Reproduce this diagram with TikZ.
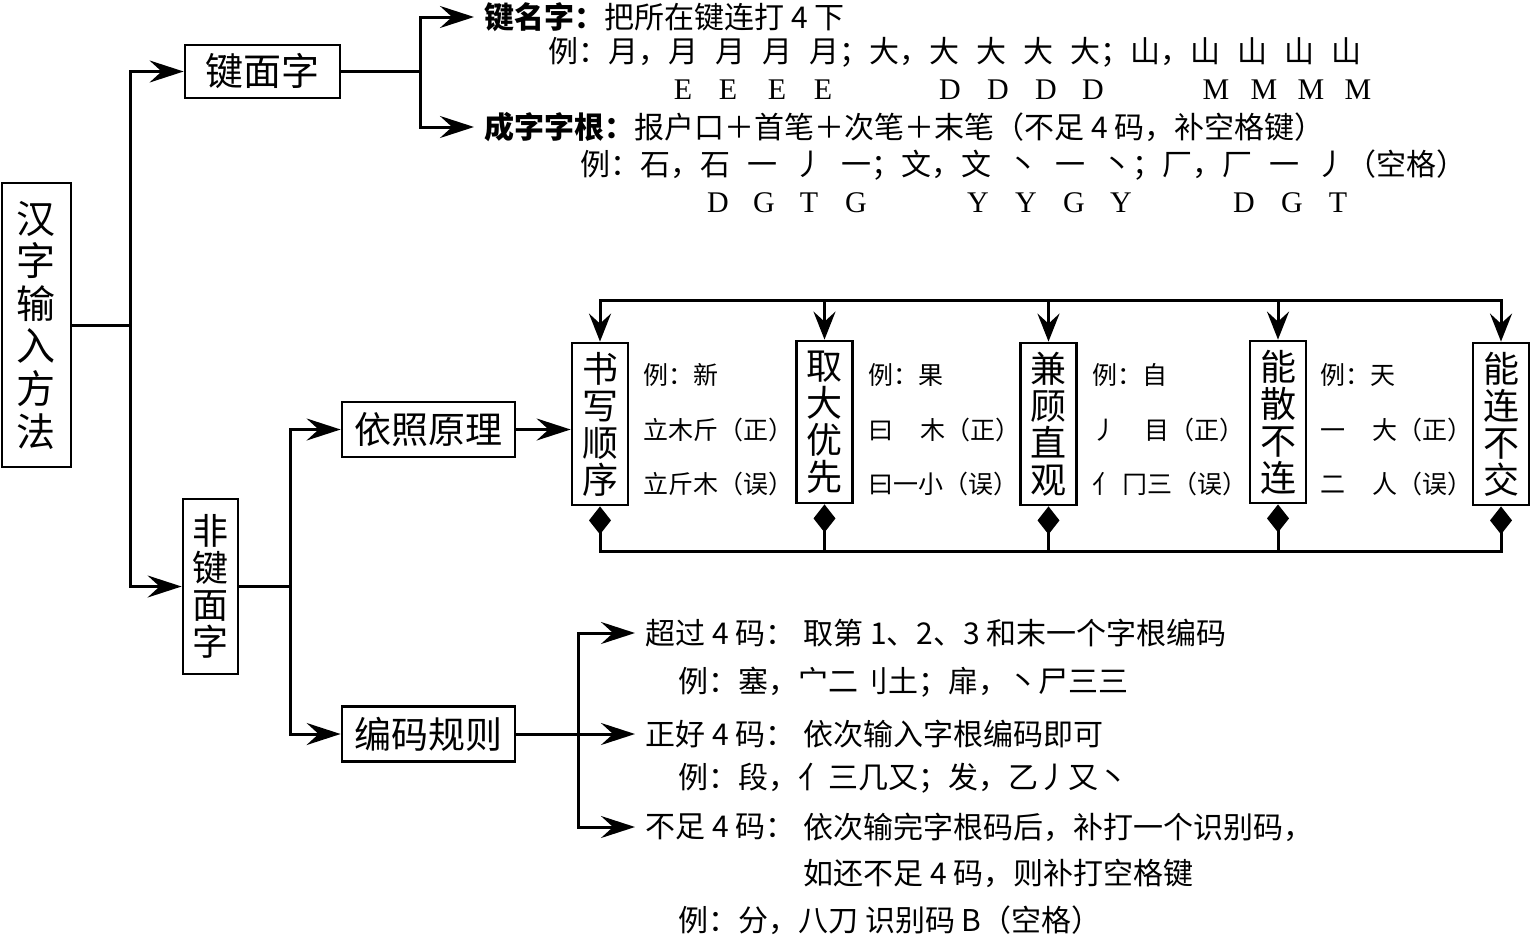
\documentclass[tikz,border=0pt]{standalone}
\usepackage{fontspec}
\newfontfamily\hei{Noto Sans CJK SC}
\newfontfamily\song{Noto Sans CJK SC}
\newfontfamily\lat{Liberation Serif}
\usetikzlibrary{arrows.meta, positioning, calc}
\newcommand\gp{\hspace{8.5pt}}
\newcommand\sk{\hspace{1.1em}}
\tikzset{
  box/.style={draw, line width=1.4pt, inner sep=0pt, align=center, font=\hei\fontsize{18}{18.5}\selectfont},
  vbox/.style={box, minimum width=28pt, minimum height=81pt},
  hbox/.style={box, font=\hei\fontsize{18.5}{19}\selectfont, minimum width=86.5pt, minimum height=27.5pt},
  txt/.style={anchor=west, inner sep=0pt, font=\song\fontsize{15}{18}\selectfont},
  lbl/.style={txt, font=\hei\fontsize{15}{18}\selectfont},
  note/.style={txt, font=\song\fontsize{12.5}{15}\selectfont},
  code/.style={inner sep=0pt, font=\lat\fontsize{15}{18}\selectfont},
  link/.style={line width=1.5pt},
  arr/.style={link, -{Stealth[length=17pt, width=11pt, inset=6pt]}},
  arrt/.style={arr, shorten >=5pt},
  darr/.style={link, -{Stealth[length=14pt, width=11pt, inset=5pt]}},
  dia/.style={link, {Diamond[length=14pt, width=11pt]}-},
}
\begin{document}
\begin{tikzpicture}[x=0.5pt, y=-0.5pt]
\useasboundingbox (0,0) rectangle (1530,937);
% main boxes
\node[box, font=\hei\fontsize{19.5}{21.3}\selectfont, minimum width=34.5pt, minimum height=142pt] (hz) at (36.5,325) {汉\\字\\输\\入\\方\\法};
\node[hbox, font=\hei\fontsize{19}{19}\selectfont, minimum width=77.5pt, minimum height=26.5pt] (jm) at (262.5,71.5) {键面字};
\node[box, minimum width=27.5pt, minimum height=87.5pt] (fjm) at (210.5,586.5) {非\\键\\面\\字};
\node[hbox] (yz) at (428.5,429.5) {依照原理};
\node[hbox] (bm) at (428.5,734) {编码规则};

% key-face characters
\node[txt] (jmz) at (484,17) {{\hei\bfseries 键名字：}把所在键连打 4 下};
\node[txt] (jmx) at (548,52) {例：月，月\gp{}月\gp{}月\gp{}月；大，大\gp{}大\gp{}大\gp{}大；山，山\gp{}山\gp{}山\gp{}山};
\foreach \x in {683,728,777,823} \node[code] (e\x) at (\x,90) {E};
\foreach \x in {950,998,1046,1093} \node[code] (d\x) at (\x,90) {D};
\foreach \x in {1216,1264,1311,1358} \node[code] (m\x) at (\x,90) {M};
\node[txt] (czz) at (484,127) {{\hei\bfseries 成字字根：}报户口＋首笔＋次笔＋末笔（不足 4 码，补空格键）};
\node[txt] (czx) at (580,165) {例：石，石\gp{}一\gp{}丿\gp{}一；文，文\gp{}丶\gp{}一\gp{}丶；厂，厂\gp{}一\gp{}丿（空格）};
\foreach \x/\c [count=\i] in {718/D,764/G,809/T,856/G,978/Y,1026/Y,1074/G,1121/Y,1244/D,1292/G,1338/T}
  \node[code] (c\i) at (\x,203) {\c};

% principles
\node[vbox] (sx) at (600,424) {书\\写\\顺\\序};
\node[vbox] (qd) at (824.5,422) {取\\大\\优\\先};
\node[vbox] (jg) at (1048.5,424) {兼\\顾\\直\\观};
\node[vbox] (ns) at (1278,422) {能\\散\\不\\连};
\node[vbox] (nl) at (1501,424) {能\\连\\不\\交};
\node[note] (sx1) at (643,375) {例：新};
\node[note] (sx2) at (643,430) {立木斤（正）};
\node[note] (sx3) at (643,484) {立斤木（误）};
\node[note] (qd1) at (868,375) {例：果};
\node[note] (qd2) at (868,430) {曰\sk{}木（正）};
\node[note] (qd3) at (868,484) {曰一小（误）};
\node[note] (jg1) at (1092,375) {例：自};
\node[note] (jg2) at (1092,430) {丿\sk{}目（正）};
\node[note] (jg3) at (1092,484) {亻\hspace{0.2em}冂三（误）};
\node[note] (ns1) at (1320,375) {例：天};
\node[note] (ns2) at (1320,430) {一\sk{}大（正）};
\node[note] (ns3) at (1320,484) {二\sk{}人（误）};

% coding rules
\node[lbl] (cg) at (645,633) {超过 4 码：};
\node[txt] (cg1) at (803,633) {取第 1、2、3 和末一个字根编码};
\node[txt] (cg2) at (678,682) {例：塞，宀二刂土；扉，丶尸三三};
\node[lbl] (zh) at (645,734) {正好 4 码：};
\node[txt] (zh1) at (803,734) {依次输入字根编码即可};
\node[txt] (zh2) at (678,778) {例：段，亻三几又；发，乙丿又丶};
\node[lbl] (bz) at (645,827) {不足 4 码：};
\node[txt] (bz1) at (803,827) {依次输完字根码后，补打一个识别码，};
\node[txt] (bz2) at (803,873) {如还不足 4 码，则补打空格键};
\node[txt] (bz3) at (678,920) {例：分，八刀 识别码 B（空格）};

% connectors
\coordinate (t1) at (130,325);
\draw[link] (hz.east |- t1) -- (t1);
\draw[arr] (t1) |- (jm.west);
\draw[arr] (t1) |- (fjm.west);
\coordinate (t2) at (420,71.5);
\draw[link] (jm.east) -- (t2);
\draw[arrt] (t2) |- (jmz.west);
\draw[arrt] (t2) |- (czz.west);
\coordinate (t3) at (290,586.5);
\draw[link] (fjm.east) -- (t3);
\draw[arr] (t3) |- (yz.west);
\draw[arr] (t3) |- (bm.west);
\draw[arr] (yz.east) -- (yz.east -| sx.west);
\coordinate (bus) at (0,300);
\coordinate (bot) at (0,551);
\draw[link, line cap=rect] (bus -| sx.north) -- (bus -| nl.north);
\draw[link, line cap=rect] (bot -| sx.south) -- (bot -| nl.south);
\foreach \v in {sx,qd,jg,ns,nl} {
  \draw[darr] (bus -| \v.north) -- (\v.north);
  \draw[dia] (\v.south) -- (bot -| \v.south);
}
\coordinate (t4) at (578,734);
\draw[link] (bm.east) -- (t4);
\draw[arrt] (t4) |- (cg.west);
\draw[arrt] (t4) -- (zh.west);
\draw[arrt] (t4) |- (bz.west);
\end{tikzpicture}
\end{document}
